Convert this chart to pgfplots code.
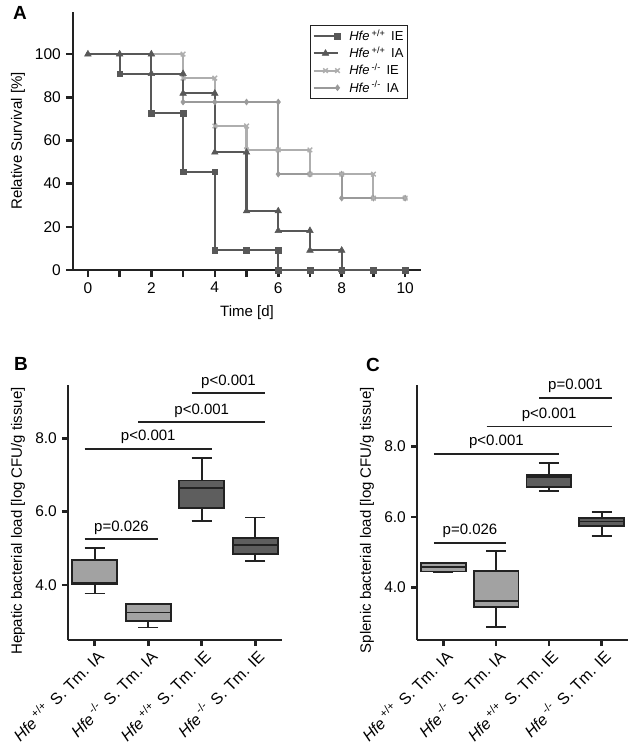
\documentclass[border=0pt]{standalone}
\usepackage{fontspec}
\setmainfont{Liberation Sans}
\usepackage{pgfplots}
\pgfplotsset{compat=1.18}
\usepgfplotslibrary{statistics}
\definecolor{dk}{HTML}{585858}
\definecolor{lt}{HTML}{AEAEAE}
\definecolor{md}{HTML}{9A9A9A}
\definecolor{boxlt}{HTML}{A2A2A2}
\definecolor{boxdk}{HTML}{5E5E5E}
\definecolor{ax}{HTML}{222222}
\begin{document}
\fontsize{15}{18}\selectfont
\begin{tikzpicture}
\path[use as bounding box] (0pt,0pt) rectangle (634pt,-750pt);
\pgfplotsset{
  every axis/.append style={
    scale only axis, clip=false,
    axis lines*=left,
    axis line style={line width=1.8pt, ax},
    tick style={line width=2.6pt, ax},
    major tick length=7pt,
    tick align=outside,
    /pgf/number format/assume math mode=true,
    tick label style={font=\fontsize{15.5}{18}\selectfont},
    label style={font=\fontsize{15}{18}\selectfont},
    boxplot/draw direction=y,
  },
  sig/.style={ax, line width=1.9pt},
  bx/.style={draw=ax, line width=1.8pt},
}
% ---------------- Panel A ----------------
\begin{axis}[at={(73pt,-270pt)}, anchor=south west, width=348pt, height=258pt,
  xmin=-0.47, xmax=10.5, ymin=0, ymax=119.5,
  xtick={0,1,...,10}, xticklabels={0,,2,,4,,6,,8,,10},
  ytick={0,20,...,100},
  xlabel={Time [d]}, ylabel={Relative Survival [\%]},
  xlabel style={at={(axis description cs:0.5,-0.167)}, anchor=center},
  ylabel style={at={(axis description cs:-0.158,0.5)}, anchor=center},
  reverse legend,
  legend style={at={(0.963,0.95)}, anchor=north east, draw=ax, line width=1.4pt,
    font=\fontsize{13}{15}\selectfont, inner sep=2pt, row sep=0pt, column sep=7pt,
    cells={anchor=west}},
  legend image code/.code={\draw[mark repeat=2,mark phase=2,#1] plot coordinates {(0pt,0pt)(12pt,0pt)(24pt,0pt)};},
]
\addplot[md, line width=2.1pt, mark=diamond*, mark size=3pt, mark options={solid, line width=0.5pt},
  mark indices={3,4,5,6,7,8,9,10,11,12}]
  coordinates {(0,100)(3,100)(3,77.8)(4,77.8)(5,77.8)(6,77.8)(6,44.4)(7,44.4)(8,44.4)(8,33.3)(9,33.3)(10,33.3)};
\addlegendentry{\textit{Hfe}\,\textsuperscript{-/-}\, IA}
\addplot[lt, line width=2.1pt, mark=x, mark size=3.2pt, mark options={solid, line width=1.4pt},
  mark indices={2,3,4,5,6,7,8,9,10,11,12,13,14}]
  coordinates {(0,100)(3,100)(3,88.9)(4,88.9)(4,66.7)(5,66.7)(5,55.6)(6,55.6)(7,55.6)(7,44.4)(8,44.4)(9,44.4)(9,33.3)(10,33.3)};
\addlegendentry{\textit{Hfe}\,\textsuperscript{-/-}\, IE}
\addplot[dk, line width=2.1pt, mark=triangle*, mark size=3.8pt, mark options={solid, line width=0.5pt}]
  coordinates {(0,100)(1,100)(2,100)(2,90.9)(3,90.9)(3,81.8)(4,81.8)(4,54.5)(5,54.5)(5,27.3)(6,27.3)(6,18.2)(7,18.2)(7,9.1)(8,9.1)(8,0)};
\addlegendentry{\textit{Hfe}\,\textsuperscript{+/+}\, IA}
\addplot[dk, line width=2.1pt, mark=square*, mark size=2.8pt, mark options={solid, line width=0.5pt},
  mark indices={3,5,6,7,8,9,10,11,12,13,14,15,16}]
  coordinates {(0,100)(1,100)(1,90.9)(2,90.9)(2,72.7)(3,72.7)(3,45.5)(4,45.5)(4,9.1)(5,9.1)(6,9.1)(6,0)(7,0)(8,0)(9,0)(10,0)};
\addlegendentry{\textit{Hfe}\,\textsuperscript{+/+}\, IE}
\end{axis}
\node[font=\fontsize{19}{22}\selectfont\bfseries] at (20pt,-13pt) {A};
% ---------------- Panel B ----------------
\begin{axis}[at={(68pt,-640pt)}, anchor=south west, width=214pt, height=255pt,
  xmin=0.5, xmax=4.5, ymin=2.5, ymax=9.45,
  xtick={1,2,3,4}, major tick length=6pt,
  xticklabels={{\textit{Hfe}\,\textsuperscript{+/+}\ \,S. Tm. IA},{\textit{Hfe}\,\textsuperscript{-/-}\ \,S. Tm. IA},{\textit{Hfe}\,\textsuperscript{+/+}\ \,S. Tm. IE},{\textit{Hfe}\,\textsuperscript{-/-}\ \,S. Tm. IE}},
  x tick label style={rotate=45, anchor=north east, inner sep=1pt, font=\fontsize{16}{18}\selectfont},
  ytick={4,6,8},
  yticklabel style={/pgf/number format/.cd, fixed, fixed zerofill, precision=1},
  ylabel={Hepatic bacterial load [log CFU/g tissue]},
  ylabel style={at={(axis description cs:-0.234,0.467)}, anchor=center},
  boxplot/box extend=0.84, boxplot/whisker extend=0.375,
]
\addplot[boxplot prepared={draw position=1, median=4.07, upper quartile=4.68, lower quartile=4.03, upper whisker=5.0, lower whisker=3.77}, fill=boxlt, bx] coordinates {};
\addplot[boxplot prepared={draw position=2, median=3.25, upper quartile=3.48, lower quartile=3.02, upper whisker=3.48, lower whisker=2.84}, fill=boxlt, bx] coordinates {};
\addplot[boxplot prepared={draw position=3, median=6.65, upper quartile=6.85, lower quartile=6.09, upper whisker=7.45, lower whisker=5.75}, fill=boxdk, bx] coordinates {};
\addplot[boxplot prepared={draw position=4, median=5.09, upper quartile=5.27, lower quartile=4.85, upper whisker=5.84, lower whisker=4.65}, fill=boxdk, bx] coordinates {};
\addplot[sig] coordinates {(0.81,5.25)(2.19,5.25)} node[pos=0.5, above, inner sep=4pt, black] {p=0.026};
\addplot[sig] coordinates {(0.81,7.71)(3.19,7.71)} node[pos=0.5, above, inner sep=4pt, black] {p<0.001};
\addplot[sig] coordinates {(1.81,8.43)(4.19,8.43)} node[pos=0.5, above, inner sep=4pt, black] {p<0.001};
\addplot[sig] coordinates {(2.81,9.23)(4.19,9.23)} node[pos=0.5, above, inner sep=4pt, black] {p<0.001};
\end{axis}
\node[font=\fontsize{19}{22}\selectfont\bfseries] at (21pt,-364pt) {B};
% ---------------- Panel C ----------------
\begin{axis}[at={(417pt,-640pt)}, anchor=south west, width=211pt, height=255pt,
  xmin=0.5, xmax=4.5, ymin=2.5, ymax=9.75,
  xtick={1,2,3,4}, major tick length=6pt,
  xticklabels={{\textit{Hfe}\,\textsuperscript{+/+}\ \,S. Tm. IA},{\textit{Hfe}\,\textsuperscript{-/-}\ \,S. Tm. IA},{\textit{Hfe}\,\textsuperscript{+/+}\ \,S. Tm. IE},{\textit{Hfe}\,\textsuperscript{-/-}\ \,S. Tm. IE}},
  x tick label style={rotate=45, anchor=north east, inner sep=1pt, font=\fontsize{16}{18}\selectfont},
  ytick={4,6,8},
  yticklabel style={/pgf/number format/.cd, fixed, fixed zerofill, precision=1},
  ylabel={Splenic bacterial load [log CFU/g tissue]},
  ylabel style={at={(axis description cs:-0.237,0.47)}, anchor=center},
  boxplot/box extend=0.85, boxplot/whisker extend=0.375,
]
\addplot[boxplot prepared={draw position=1, median=4.57, upper quartile=4.68, lower quartile=4.45, upper whisker=4.68, lower whisker=4.42}, fill=boxlt, bx] coordinates {};
\addplot[boxplot prepared={draw position=2, median=3.62, upper quartile=4.47, lower quartile=3.43, upper whisker=5.02, lower whisker=2.86}, fill=boxlt, bx] coordinates {};
\addplot[boxplot prepared={draw position=3, median=7.13, upper quartile=7.20, lower quartile=6.84, upper whisker=7.54, lower whisker=6.73}, fill=boxdk, bx] coordinates {};
\addplot[boxplot prepared={draw position=4, median=5.87, upper quartile=5.96, lower quartile=5.73, upper whisker=6.13, lower whisker=5.45}, fill=boxdk, bx] coordinates {};
\addplot[sig] coordinates {(0.82,5.27)(2.19,5.27)} node[pos=0.5, above, inner sep=4pt, black] {p=0.026};
\addplot[sig] coordinates {(0.82,7.79)(3.19,7.79)} node[pos=0.5, above, inner sep=4pt, black] {p<0.001};
\addplot[sig] coordinates {(1.82,8.57)(4.19,8.57)} node[pos=0.5, above, inner sep=4pt, black] {p<0.001};
\addplot[sig] coordinates {(2.82,9.38)(4.19,9.38)} node[pos=0.5, above, inner sep=4pt, black] {p=0.001};
\end{axis}
\node[font=\fontsize{19}{22}\selectfont\bfseries] at (373pt,-365pt) {C};
\end{tikzpicture}
\end{document}
